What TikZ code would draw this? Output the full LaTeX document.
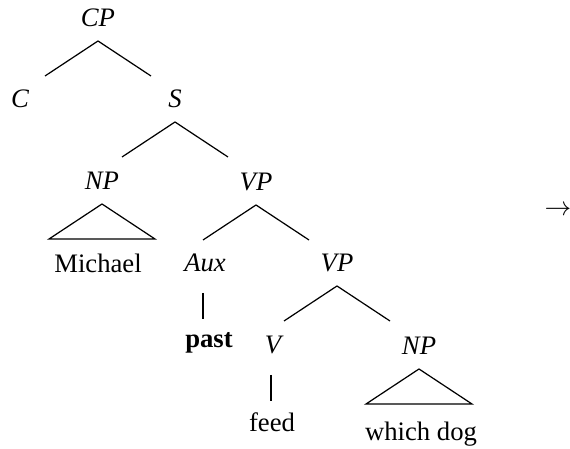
\documentclass[tikz,border=0pt]{standalone}
\usepackage{fontspec}
\setmainfont{Liberation Serif}
\usetikzlibrary{calc}

\begin{document}
\begin{tikzpicture}[x=0.45pt,y=-0.45pt, line width=0.55pt,
	every node/.style={font=\fontsize{12}{14}\selectfont, anchor=base, inner sep=0pt},
	cat/.style={font=\fontsize{12}{14}\selectfont\itshape}]
	\useasboundingbox (0,0) rectangle (570,449);
	\node[cat] (CP) at (98,27) {CP};
	\node[cat] (C) at (20,108) {C};
	\node[cat] (S) at (175,108) {S};
	\node[cat] (NP) at (102,190) {NP};
	\node[cat] (VP) at (256,191) {VP};
	\node (michael) at (98,273) {Michael};
	\node[cat] (Aux) at (205,272) {Aux};
	\node[cat] (VPb) at (337,272) {VP};
	\node[font=\fontsize{12}{14}\selectfont\bfseries] (past) at (209,348) {past};
	\node[cat] (V) at (273,354) {V};
	\node[cat] (NPb) at (419,355) {NP};
	\node (feed) at (272,432) {feed};
	\node (whichdog) at (421,441) {which dog};
	\node (arrow) at (558,216) {$\rightarrow$};
	\foreach \p in {CP, S, VP, VPb}
		\draw ($(\p.base)+(-53,49)$) coordinate (\p-l) -- ($(\p.base)+(0,14)$) coordinate (\p-t) -- ($(\p.base)+(53,49)$) coordinate (\p-r);
	\foreach \p in {NP, NPb}
		\draw ($(\p.base)+(0,14)$) coordinate (\p-t) -- ($(\p.base)+(-53,49)$) coordinate (\p-l) -- ($(\p.base)+(53,49)$) coordinate (\p-r) -- cycle;
	\foreach \p in {Aux, V}
		\draw ($(\p.base)+(-2,21)$) coordinate (\p-t) -- ($(\p.base)+(-2,47)$) coordinate (\p-b);
\end{tikzpicture}
\end{document}
